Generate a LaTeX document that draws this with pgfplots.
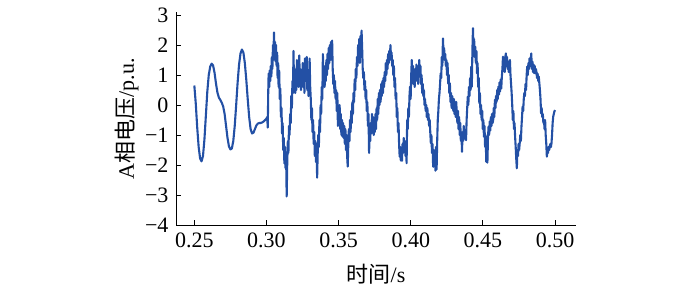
\documentclass[border=0pt]{standalone}
\usepackage{fontspec}
\setmainfont{Liberation Serif}
\newfontfamily\cjk{Noto Sans CJK SC}
\usepackage{pgfplots}
\pgfplotsset{compat=1.18}
\definecolor{wave}{RGB}{35,80,165}
\begin{document}
\fontsize{22}{26}\selectfont
\begin{tikzpicture}
\begin{axis}[
  at={(0,0)}, anchor=south west,
  scale only axis, width=400pt, height=213pt,
  xmin=0.2373, xmax=0.5145, ymin=-4, ymax=3.1,
  axis lines=left, axis line style={-, line width=1pt},
  tick align=inside, major tick length=5pt,
  tick style={line width=1pt, black},
  xtick={0.25,0.30,0.35,0.40,0.45,0.50},
  xticklabels={0.25,0.30,0.35,0.40,0.45,0.50},
  ytick={-4,-3,-2,-1,0,1,2,3},
  yticklabels={−4,−3,−2,−1,0,1,2,3},
  ticklabel style={font=\fontsize{22}{26}\selectfont},
  every axis x label/.style={at={(axis description cs:0.5,-0.272)},anchor=base},
  every axis y label/.style={at={(axis description cs:-0.1225,0.5)},rotate=90,anchor=center},
  xlabel={\fontsize{22}{26}\selectfont{\cjk 时间}/s},
  ylabel={\fontsize{22}{26}\selectfont A{\cjk 相电压}/p.u.},
  clip=false,
]
\addplot[wave, line width=2.1pt, line join=round] table {
t v
0.2500 0.65
0.2510 0.05
0.2520 -0.75
0.2530 -1.40
0.2540 -1.78
0.2550 -1.88
0.2560 -1.70
0.2570 -1.15
0.2580 -0.35
0.2590 0.45
0.2600 1.00
0.2610 1.28
0.2620 1.38
0.2630 1.32
0.2640 1.08
0.2650 0.72
0.2660 0.42
0.2670 0.25
0.2680 0.17
0.2690 0.08
0.2700 -0.05
0.2710 -0.30
0.2720 -0.70
0.2730 -1.10
0.2740 -1.38
0.2750 -1.48
0.2760 -1.45
0.2770 -1.20
0.2780 -0.70
0.2790 0.00
0.2800 0.75
0.2810 1.35
0.2820 1.72
0.2830 1.85
0.2840 1.75
0.2850 1.40
0.2860 0.85
0.2870 0.20
0.2880 -0.40
0.2890 -0.80
0.2900 -0.95
0.2910 -0.92
0.2920 -0.80
0.2930 -0.68
0.2940 -0.62
0.2950 -0.60
0.2960 -0.60
0.2970 -0.58
0.2980 -0.55
0.2990 -0.50
0.3000 -0.45
0.3005 -0.40
0.3009 -0.75
0.3012 0.40
0.3015 1.05
0.3019 0.60
0.3022 1.15
0.3026 0.80
0.3030 1.30
0.3034 0.95
0.3037 1.60
0.3041 1.20
0.3045 2.00
0.3048 1.50
0.3052 2.42
0.3056 1.70
0.3059 2.10
0.3063 1.45
0.3066 2.00
0.3070 1.30
0.3074 1.75
0.3077 0.90
0.3081 1.40
0.3084 0.60
0.3088 1.15
0.3092 0.20
0.3096 0.55
0.3100 -0.40
0.3104 -0.10
0.3108 -0.95
0.3112 -0.60
0.3116 -1.50
0.3120 -1.10
0.3124 -1.95
0.3128 -1.40
0.3132 -2.10
0.3136 -1.70
0.3140 -3.05
0.3144 -1.90
0.3148 -1.20
0.3152 -1.60
0.3156 -0.70
0.3160 -1.00
0.3164 -0.30
0.3168 -0.60
0.3172 0.30
0.3176 -0.10
0.3180 0.80
0.3184 0.40
0.3187 1.80
0.3191 0.70
0.3195 1.20
0.3199 0.40
0.3203 1.10
0.3207 0.50
0.3211 1.50
0.3215 0.80
0.3219 1.30
0.3223 0.60
0.3227 1.65
0.3231 0.90
0.3235 1.20
0.3239 0.50
0.3243 1.00
0.3247 0.60
0.3251 1.40
0.3255 0.70
0.3259 1.10
0.3263 0.40
0.3267 1.55
0.3271 0.80
0.3275 1.25
0.3279 1.60
0.3283 0.50
0.3287 1.00
0.3291 0.30
0.3295 0.90
0.3299 1.55
0.3303 0.60
0.3307 0.20
0.3311 -0.50
0.3315 -0.10
0.3319 -0.90
0.3323 -0.50
0.3327 -1.30
0.3331 -0.90
0.3335 -1.70
0.3339 -1.20
0.3343 -1.90
0.3347 -1.40
0.3351 -2.42
0.3355 -1.60
0.3359 -1.00
0.3363 -1.40
0.3367 -0.50
0.3371 -0.90
0.3375 0.00
0.3379 -0.30
0.3383 0.60
0.3387 0.20
0.3391 1.70
0.3395 0.80
0.3399 1.30
0.3403 0.60
0.3407 1.10
0.3411 0.80
0.3415 1.50
0.3419 1.00
0.3423 1.70
0.3427 1.20
0.3431 1.90
0.3435 1.40
0.3439 2.00
0.3443 1.50
0.3447 2.10
0.3451 1.60
0.3455 2.15
0.3459 1.20
0.3463 0.70
0.3467 1.00
0.3471 0.40
0.3475 0.80
0.3479 0.20
0.3483 0.50
0.3487 -0.20
0.3491 0.40
0.3495 -0.70
0.3499 -0.20
0.3503 -0.50
0.3507 0.00
0.3511 -0.80
0.3515 -0.30
0.3519 -1.00
0.3523 -0.50
0.3527 -1.05
0.3531 -0.60
0.3535 -1.10
0.3539 -0.70
0.3543 -1.30
0.3547 -0.80
0.3551 -1.50
0.3555 -1.00
0.3559 -1.70
0.3563 -2.05
0.3567 -1.30
0.3571 -0.80
0.3575 -1.20
0.3579 -0.50
0.3583 -0.90
0.3587 -0.20
0.3591 -0.60
0.3595 0.10
0.3599 -0.30
0.3603 0.40
0.3607 0.10
0.3611 0.85
0.3615 0.50
0.3619 1.20
0.3623 0.90
0.3627 1.60
0.3631 1.30
0.3635 2.00
0.3639 1.60
0.3643 2.20
0.3647 1.40
0.3651 2.30
0.3655 1.70
0.3659 2.48
0.3663 1.90
0.3667 1.20
0.3671 0.90
0.3675 1.10
0.3679 0.50
0.3683 0.80
0.3687 0.20
0.3691 0.50
0.3695 -0.20
0.3699 0.10
0.3703 -0.70
0.3707 -0.30
0.3711 -1.60
0.3715 -0.90
0.3719 -1.20
0.3723 -0.60
0.3727 -0.95
0.3731 -0.30
0.3735 -0.70
0.3739 -0.40
0.3743 -1.00
0.3747 -0.50
0.3751 -0.90
0.3755 -0.30
0.3759 -0.80
0.3763 -0.10
0.3767 -0.50
0.3771 0.20
0.3775 -0.30
0.3779 0.40
0.3783 0.00
0.3787 0.50
0.3791 0.10
0.3795 0.70
0.3799 0.30
0.3803 0.80
0.3807 0.40
0.3811 0.90
0.3815 0.60
0.3819 1.10
0.3823 0.80
0.3827 1.40
0.3831 1.00
0.3835 1.50
0.3839 1.20
0.3843 1.70
0.3847 1.40
0.3851 1.80
0.3855 1.50
0.3859 2.00
0.3863 1.60
0.3867 1.75
0.3871 1.30
0.3875 1.50
0.3879 1.00
0.3883 1.30
0.3887 0.60
0.3891 0.90
0.3895 0.20
0.3899 0.40
0.3903 -0.40
0.3907 -0.10
0.3911 -0.90
0.3915 -0.60
0.3919 -1.30
0.3923 -1.72
0.3927 -1.40
0.3931 -1.85
0.3935 -1.50
0.3939 -1.86
0.3943 -1.30
0.3947 -1.60
0.3951 -1.10
0.3955 -1.40
0.3959 -1.27
0.3963 -1.70
0.3967 -1.20
0.3971 -1.94
0.3975 -0.50
0.3979 -0.80
0.3983 -0.10
0.3987 -0.40
0.3991 0.30
0.3995 0.61
0.3999 0.20
0.4003 1.00
0.4007 1.50
0.4011 0.90
0.4015 1.30
0.4019 0.70
0.4023 1.10
0.4027 0.60
0.4031 1.20
0.4035 0.80
0.4039 1.35
0.4043 0.90
0.4047 1.20
0.4051 0.70
0.4055 1.10
0.4059 1.50
0.4063 1.00
0.4067 1.30
0.4071 0.70
0.4075 1.00
0.4079 0.40
0.4083 0.70
0.4087 0.30
0.4091 0.50
0.4095 0.00
0.4099 0.20
0.4103 -0.20
0.4107 0.00
0.4111 -0.40
0.4115 -0.10
0.4119 -0.50
0.4123 -0.30
0.4127 -0.70
0.4131 -0.50
0.4135 -0.90
0.4139 -1.27
0.4143 -1.00
0.4147 -1.60
0.4151 -1.30
0.4155 -2.06
0.4159 -1.50
0.4163 -1.90
0.4167 -1.60
0.4171 -2.19
0.4175 -1.40
0.4179 -2.15
0.4183 -1.20
0.4187 -0.50
0.4191 -0.20
0.4195 0.20
0.4199 0.40
0.4203 0.70
0.4207 1.06
0.4211 0.90
0.4215 1.60
0.4219 1.30
0.4223 2.22
0.4227 1.70
0.4231 1.90
0.4235 1.50
0.4239 1.70
0.4243 1.30
0.4247 1.50
0.4251 1.00
0.4255 1.40
0.4259 0.72
0.4263 1.00
0.4267 0.40
0.4271 0.72
0.4275 0.10
0.4279 0.40
0.4283 -0.10
0.4287 0.30
0.4291 0.06
0.4295 -0.20
0.4299 0.20
0.4303 -0.30
0.4307 0.10
0.4311 -0.40
0.4315 0.10
0.4319 -0.30
0.4323 -0.60
0.4327 -0.20
0.4331 -0.80
0.4335 -0.40
0.4339 -1.00
0.4343 -0.60
0.4347 -1.20
0.4351 -0.90
0.4355 -1.56
0.4359 -0.90
0.4363 -1.20
0.4367 -0.70
0.4371 -1.00
0.4375 -0.83
0.4379 -1.10
0.4383 -1.17
0.4387 -0.50
0.4391 -0.10
0.4395 0.28
0.4399 0.00
0.4403 0.60
0.4407 0.30
0.4411 0.90
0.4415 0.50
0.4419 1.28
0.4423 0.61
0.4427 1.80
0.4431 2.56
0.4435 1.80
0.4439 2.20
0.4443 1.60
0.4447 1.94
0.4451 1.40
0.4455 1.80
0.4459 1.06
0.4463 1.40
0.4467 0.60
0.4471 0.90
0.4475 0.06
0.4479 0.40
0.4483 -0.30
0.4487 0.00
0.4491 -0.50
0.4495 -0.20
0.4499 -0.80
0.4503 -0.50
0.4507 -1.06
0.4511 -0.70
0.4515 -1.40
0.4519 -1.00
0.4523 -1.89
0.4527 -1.30
0.4531 -1.92
0.4535 -1.10
0.4539 -0.72
0.4543 -1.00
0.4547 -0.55
0.4551 -0.85
0.4555 -0.40
0.4559 -0.70
0.4563 -0.30
0.4567 -0.60
0.4571 -0.50
0.4575 -0.10
0.4579 -0.40
0.4583 0.17
0.4587 -0.10
0.4591 0.30
0.4595 0.10
0.4599 0.50
0.4603 0.20
0.4607 0.61
0.4611 0.35
0.4615 0.75
0.4619 0.45
0.4623 0.85
0.4627 0.55
0.4631 0.94
0.4635 1.20
0.4639 1.61
0.4643 1.20
0.4647 1.50
0.4651 1.10
0.4655 1.60
0.4659 1.72
0.4663 1.30
0.4667 1.60
0.4671 1.20
0.4675 1.45
0.4679 1.10
0.4683 1.40
0.4687 1.50
0.4691 1.00
0.4695 0.70
0.4699 0.40
0.4703 0.00
0.4707 -0.50
0.4711 -0.20
0.4715 -0.80
0.4719 -0.60
0.4723 -1.06
0.4727 -1.40
0.4731 -1.80
0.4735 -2.11
0.4739 -1.50
0.4743 -1.70
0.4747 -1.30
0.4751 -1.50
0.4755 -1.27
0.4759 -1.00
0.4763 -1.20
0.4767 -0.72
0.4771 -0.40
0.4775 -0.05
0.4779 -0.20
0.4783 0.20
0.4787 0.40
0.4791 0.30
0.4795 0.70
0.4799 0.50
0.4803 1.00
0.4807 1.28
0.4811 1.00
0.4815 1.40
0.4819 1.20
0.4823 1.55
0.4827 1.30
0.4831 1.50
0.4835 1.72
0.4839 1.20
0.4843 1.45
0.4847 1.10
0.4851 1.35
0.4855 1.06
0.4859 1.30
0.4863 1.06
0.4867 1.20
0.4871 1.10
0.4875 0.90
0.4879 1.05
0.4883 0.80
0.4887 0.95
0.4891 0.72
0.4895 0.50
0.4899 0.20
0.4903 -0.28
0.4907 -0.10
0.4911 -0.40
0.4915 -0.30
0.4919 -0.60
0.4923 -0.50
0.4927 -0.80
0.4931 -0.50
0.4935 -1.00
0.4939 -1.30
0.4943 -1.72
0.4947 -1.50
0.4951 -1.60
0.4955 -1.40
0.4959 -1.50
0.4963 -1.39
0.4967 -1.30
0.4971 -1.40
0.4975 -1.28
0.4979 -1.00
0.4983 -0.60
0.4987 -0.39
0.4991 -0.30
0.4995 -0.22
0.5000 -0.17
};
\end{axis}
\pgfresetboundingbox
\path[use as bounding box] (-176pt,-65pt) rectangle (524pt,225pt);
\end{tikzpicture}
\end{document}
